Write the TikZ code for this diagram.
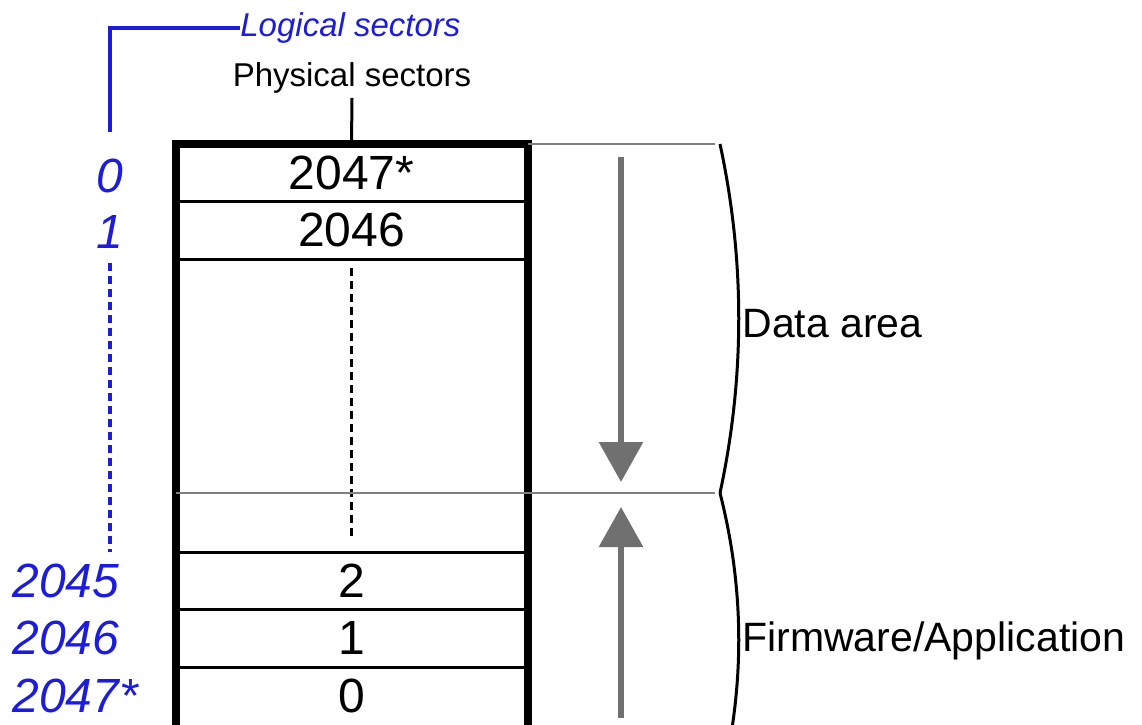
\documentclass[tikz,border=0pt]{standalone}
\usepackage{fontspec}
\setmainfont{Liberation Sans}
\usetikzlibrary{arrows.meta, positioning}
\definecolor{logblue}{RGB}{28,28,220}
\definecolor{arrgray}{RGB}{112,112,112}

\begin{document}
\begin{tikzpicture}[x=0.5pt, y=-0.5pt,
    sector/.style={draw, line width=1.5pt, minimum width=176pt, minimum height=28.75pt,
        inner sep=0pt, outer sep=0pt, font=\fontsize{24}{28}\selectfont},
    logic/.style={text=logblue, inner sep=0pt, font=\fontsize{24}{28}\selectfont\itshape},
    logline/.style={draw=logblue, line width=1.75pt},
    vdash/.style={line width=1.75pt, dash pattern=on 4pt off 2.5pt},
    bigarrow/.style={draw=arrgray, line width=3pt, -{Triangle[length=20pt, width=21.5pt]}},
    sepline/.style={draw=gray, line width=1pt},
    bracket/.style={draw, line width=1.5pt},
    area/.style={anchor=west, inner sep=0pt, font=\fontsize{20.5}{24}\selectfont}]
    \useasboundingbox (0,0) rectangle (1142,724);
    \clip (0,0) rectangle (1142,724);

    % physical sectors
    \node[sector] (p0) at (351.5,172.75) {2047*};
    \node[sector, below=0pt of p0] (p1) {2046};
    \node[sector, below=0pt of p1, minimum height=146.5pt] (gap) {};
    \node[sector, below=0pt of gap] (p2) {2};
    \node[sector, below=0pt of p2] (p3) {1};
    \node[sector, below=0pt of p3, minimum height=32pt] (p4) {};
    \node[font=\fontsize{24}{28}\selectfont] at (351.5,695.5) {0};
    \draw[line width=4pt] (p0.north west) rectangle (p4.south east);
    \draw[vdash, shorten <=4.5pt, shorten >=6pt] (gap.north) -- (gap.south);

    \node[inner sep=2pt, font=\fontsize{16.5}{20}\selectfont] (phys) at (352,78) {Physical sectors};
    \draw[line width=1.5pt] (phys.south) -- (p0.north);

    % logical sectors
    \coordinate (lx) at (110,0);
    \coordinate (lleft) at (12,0);
    \node[logic] (l0) at ([yshift=-1.5pt]p0 -| lx) {0};
    \node[logic] (l1) at ([yshift=-1pt]p1 -| lx) {1};
    \node[logic, anchor=west] (l2045) at (p2 -| lleft) {2045};
    \node[logic, anchor=west] (l2046) at (p3 -| lleft) {2046};
    \node[logic, anchor=west] (l2047) at (12,695.5) {2047*};
    \node[anchor=west, inner sep=0pt, text=logblue, font=\fontsize{16.5}{20}\selectfont\itshape]
        (logtxt) at (240,28) {Logical sectors};
    \draw[logline, shorten <=13pt] (l0.north) |- (logtxt.west);
    \draw[logline, vdash, shorten <=7pt, shorten >=5.5pt] (l1.south) -- (l1.south |- l2045.north);

    % areas
    \coordinate (dtop) at (715,144);
    \coordinate (split) at (715,493);
    \draw[sepline] (p0.north east) -- (dtop);
    \draw[sepline] (split -| gap.west) -- (split);
    \coordinate (bt) at (720,144);
    \coordinate (bm) at (720,493);
    \coordinate (bb) at (720,787);
    \draw[bracket] (bt) .. controls +(25,116) and +(25,-116) .. (bm);
    \draw[bracket] (bm) .. controls +(25,98) and +(25,-98) .. (bb);
    \node[area] (data) at (742,324) {Data area};
    \node[area] (firm) at (742,641) {Firmware/Application};

    % direction arrows
    \coordinate (dstart) at (621,157);
    \coordinate (dend) at (621,482);
    \coordinate (ustart) at (621,718);
    \coordinate (uend) at (621,507);
    \draw[bigarrow] (dstart) -- (dend);
    \draw[bigarrow] (ustart) -- (uend);
\end{tikzpicture}
\end{document}
